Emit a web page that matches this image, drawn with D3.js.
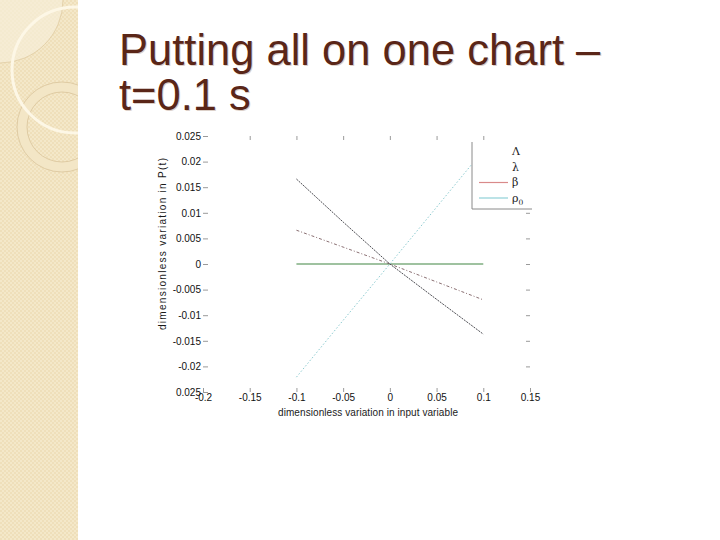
<!DOCTYPE html>
<html>
<head>
<meta charset="utf-8">
<script src="https://cdn.jsdelivr.net/npm/d3@7"></script>
<style>
  body { margin: 0; background: #fff; }
  svg { display: block; }
</style>
</head>
<body>
<script>
// values
var xTicks = [-0.2, -0.15, -0.1, -0.05, 0, 0.05, 0.1, 0.15];
var yTicks = [-0.025, -0.02, -0.015, -0.01, -0.005, 0, 0.005, 0.01, 0.015, 0.02, 0.025];
var yTickLabels = ["0.025", "-0.02", "-0.015", "-0.01", "-0.005", "0", "0.005", "0.01", "0.015", "0.02", "0.025"];

var inputVar = [-0.1, -0.05, 0, 0.05, 0.1];
var bigLambda = [0.0166, 0.0082, 0, -0.0069, -0.0137];
var smallLambda = [0.0066, 0.0033, 0, -0.0035, -0.0070];
var beta = [0, 0, 0, 0, 0];
var rho0 = [-0.0221, -0.0110, 0, 0.0111, 0.0222];

var seriesNames = ["Λ", "λ", "β", "ρ"];

var width = 720, height = 540;

var svg = d3.select("body").append("svg")
    .attr("width", width)
    .attr("height", height);

// ---- slide background: beige strip on the left ----
var defs = svg.append("defs");
var pat = defs.append("pattern")
    .attr("id", "check")
    .attr("width", 4).attr("height", 4)
    .attr("patternUnits", "userSpaceOnUse");
pat.append("rect").attr("width", 4).attr("height", 4).attr("fill", "#efdfba");
pat.append("rect").attr("width", 2).attr("height", 2).attr("fill", "#f4e8c9");
pat.append("rect").attr("x", 2).attr("y", 2).attr("width", 2).attr("height", 2).attr("fill", "#f4e8c9");

defs.append("clipPath").attr("id", "strip")
  .append("rect").attr("width", 78).attr("height", height);

var strip = svg.append("g").attr("clip-path", "url(#strip)");
strip.append("rect").attr("width", 78).attr("height", height).attr("fill", "url(#check)");
strip.append("circle").attr("cx", 0).attr("cy", 0).attr("r", 63)
    .attr("fill", "#f7eed8").attr("fill-opacity", 0.7)
    .attr("stroke", "#dfcca2").attr("stroke-width", 0.8);
strip.append("circle").attr("cx", 62).attr("cy", 127).attr("r", 40)
    .attr("fill", "none").attr("stroke", "#f3e6c6").attr("stroke-width", 10);
strip.append("circle").attr("cx", 62).attr("cy", 127).attr("r", 45)
    .attr("fill", "none").attr("stroke", "#d9c49a").attr("stroke-width", 0.8);
strip.append("circle").attr("cx", 62).attr("cy", 127).attr("r", 35)
    .attr("fill", "none").attr("stroke", "#d9c49a").attr("stroke-width", 0.8);
strip.append("circle").attr("cx", 75).attr("cy", 70).attr("r", 63)
    .attr("fill", "none").attr("stroke", "#fdf7e6").attr("stroke-width", 3);

// ---- title ----
var titleLines = ["Putting all on one chart –", "t=0.1 s"];
var title = svg.append("g").attr("font-family", "Liberation Sans, Arial, sans-serif")
    .attr("font-size", 43.5);
title.selectAll("text.shadow").data(titleLines).enter().append("text")
    .attr("class", "shadow")
    .attr("x", 120).attr("y", function(d, i) { return 66 + i * 45; })
    .attr("fill", "#dcd0c8")
    .text(function(d) { return d; });
title.selectAll("text.main").data(titleLines).enter().append("text")
    .attr("class", "main")
    .attr("x", 119).attr("y", function(d, i) { return 65 + i * 45; })
    .attr("fill", "#5a2618")
    .text(function(d) { return d; });

// ---- chart ----
var x = d3.scaleLinear().domain([-0.2, 0.15]).range([203, 530]);
var y = d3.scaleLinear().domain([-0.025, 0.025]).range([392, 136]);

var chart = svg.append("g")
    .attr("font-family", "Liberation Sans, Arial, sans-serif");

var line = d3.line()
    .x(function(d) { return x(d[0]); })
    .y(function(d) { return y(d[1]); });

function pts(vals) { return inputVar.map(function(v, i) { return [v, vals[i]]; }); }

chart.append("path").attr("d", line(pts(beta)))
    .attr("fill", "none").attr("stroke", "#7fae80").attr("stroke-width", 1.3);
chart.append("path").attr("d", line(pts(rho0)))
    .attr("fill", "none").attr("stroke", "#8ccbd0").attr("stroke-width", 1)
    .attr("stroke-dasharray", "1.5,2");
chart.append("path").attr("d", line(pts(smallLambda)))
    .attr("fill", "none").attr("stroke", "#8a6f72").attr("stroke-width", 1)
    .attr("stroke-dasharray", "3,2,1,2");
chart.append("path").attr("d", line(pts(bigLambda)))
    .attr("fill", "none").attr("stroke", "#4c4c52").attr("stroke-width", 1)
    .attr("stroke-dasharray", "2,1");

// axes: ticks only, no box lines
function styleAxis(g) {
  g.select(".domain").remove();
  g.selectAll(".tick line").attr("stroke", "#9a9a9a");
  g.selectAll(".tick text").attr("fill", "#111");
}

chart.append("g")
    .attr("transform", "translate(0," + y(-0.025) + ")")
    .call(d3.axisBottom(x).tickValues(xTicks).tickSize(-4).tickPadding(1.5)
        .tickFormat(function(d) { return String(d); }))
    .attr("font-size", 10)
    .call(styleAxis);

chart.append("g")
    .attr("transform", "translate(0," + y(0.025) + ")")
    .call(d3.axisTop(x).tickValues(xTicks.slice(1, -1)).tickSize(-4).tickFormat(""))
    .call(styleAxis);

chart.append("g")
    .attr("transform", "translate(" + x(-0.2) + ",0)")
    .call(d3.axisLeft(y).tickValues(yTicks).tickSize(-5).tickPadding(2)
        .tickFormat(function(d, i) { return yTickLabels[i]; }))
    .attr("font-size", 10)
    .call(styleAxis);

chart.append("g")
    .attr("transform", "translate(" + x(0.15) + ",0)")
    .call(d3.axisRight(y).tickValues(yTicks.slice(1, -1)).tickSize(-4).tickFormat(""))
    .call(styleAxis);

// axis titles (the reference type is widely spaced)
chart.append("text")
    .attr("x", 368).attr("y", 416)
    .attr("text-anchor", "middle").attr("font-size", 10).attr("fill", "#1a1a1a")
    .attr("textLength", 180).attr("lengthAdjust", "spacing")
    .text("dimensionless variation in input variable");
chart.append("text")
    .attr("transform", "translate(166,244) rotate(-90)")
    .attr("text-anchor", "middle").attr("font-size", 10).attr("fill", "#1a1a1a")
    .attr("textLength", 172).attr("lengthAdjust", "spacing")
    .text("dimensionless variation in P(t)");

// legend (white box hides the end of the ρ0 line)
var legendLineColors = ["none", "none", "#d98a8a", "#8fd0d8"];
var leg = chart.append("g").attr("transform", "translate(472,142)");
leg.append("rect").attr("width", 60).attr("height", 67).attr("fill", "#fff");
leg.append("path").attr("d", "M0,0V67H60")
    .attr("fill", "none").attr("stroke", "#8a8a8a").attr("stroke-width", 1);
var rows = leg.selectAll("g.row").data(seriesNames).enter().append("g")
    .attr("class", "row")
    .attr("transform", function(d, i) { return "translate(0," + (9.5 + i * 15.5) + ")"; });
rows.append("line")
    .attr("x1", 7).attr("x2", 36)
    .attr("stroke", function(d, i) { return legendLineColors[i]; })
    .attr("stroke-width", 1.2);
var lt = rows.append("text")
    .attr("x", 40).attr("dy", "0.35em")
    .attr("font-family", "DejaVu Serif, serif").attr("font-size", 11)
    .attr("fill", "#222")
    .text(function(d) { return d; });
lt.filter(function(d) { return d === "ρ"; })
  .append("tspan").attr("font-size", 7.5).attr("dy", 3).text("0");
</script>
</body>
</html>
